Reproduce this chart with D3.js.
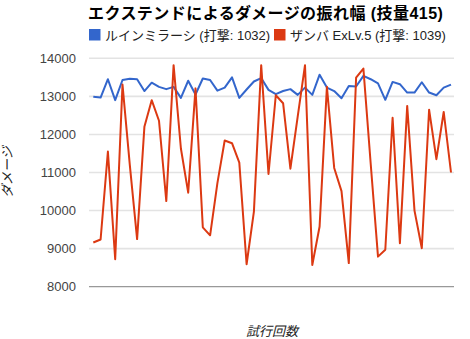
<!DOCTYPE html>
<html><head><meta charset="utf-8">
<script src="https://cdn.jsdelivr.net/npm/d3@7"></script>
<style>body{margin:0;background:#fff}svg{display:block}</style>
</head><body>
<script>
const title = "エクステンドによるダメージの振れ幅 (技量415)";
const seriesNames = ["ルインミラーシ (打撃: 1032)", "ザンバ ExLv.5 (打撃: 1039)"];
const colors = ["#3366cc", "#dc3912"];
const yTicks = [8000, 9000, 10000, 11000, 12000, 13000, 14000];
const xTitle = "試行回数";
const yTitle = "ダメージ";
const ruin = [12990,12970,13450,12900,13430,13460,13450,13140,13360,13250,
  13190,13250,12960,13410,13050,13470,13430,13150,13230,13500,
  12960,13180,13390,13480,13170,13060,13140,13190,13040,13230,
  13040,13570,13230,13140,12950,13270,13260,13540,13450,13340,
  12910,13380,13320,13100,13100,13370,13100,13030,13230,13310];
const zamba = [9160,9240,11550,8720,13310,11200,9250,12200,12900,12360,
  10250,13820,11630,10470,13210,9560,9350,10720,11840,11770,
  11260,8590,9970,13820,10960,13030,12820,11100,12470,13820,
  8570,9580,13250,11120,10510,8620,13490,13730,11230,8790,
  8970,12440,9140,12750,10000,9010,12650,11350,12590,11000];
const trials = d3.range(1, ruin.length + 1);

const W = 470, H = 339;
const svg = d3.select("body").append("svg").attr("width", W).attr("height", H);
const font = "Arial, 'Liberation Sans', 'Noto Sans CJK JP', sans-serif";

const x = d3.scalePoint().domain(trials).range([93.3, 451]);
const y = d3.scaleLinear().domain([8000, 14000]).range([286.7, 58.3]);

// gridlines
svg.append("g").selectAll("line").data(yTicks.filter(d => d !== 8000)).join("line")
  .attr("x1", 89).attr("x2", 454)
  .attr("y1", d => y(d)).attr("y2", d => y(d))
  .attr("stroke", "#e3e3e3").attr("stroke-width", 1.6);

// y axis labels
const yAxis = d3.axisLeft(y).tickValues(yTicks).tickSize(0).tickPadding(0).tickFormat(d3.format("d"));
const ya = svg.append("g").attr("transform", "translate(76,0)").call(yAxis);
ya.select(".domain").remove();
ya.selectAll("text").attr("font-family", font).attr("font-size", 13).attr("fill", "#444");

// lines
const line = d3.line().x((d, i) => x(trials[i])).y(d => y(d));
[ruin, zamba].forEach((s, k) => {
  svg.append("path").datum(s).attr("d", line)
    .attr("fill", "none").attr("stroke", colors[k]).attr("stroke-width", 2)
    .attr("stroke-linejoin", "round");
});

// baseline
svg.append("line").attr("x1", 89).attr("x2", 454)
  .attr("y1", y(8000)).attr("y2", y(8000))
  .attr("stroke", "#999").attr("stroke-width", 1.2);

// title
svg.append("text").attr("x", 88).attr("y", 19).text(title)
  .attr("font-family", font).attr("font-size", 16).attr("font-weight", "bold")
  .attr("letter-spacing", 0.45).attr("fill", "#000");

// legend
const legX = [89, 274];
seriesNames.forEach((n, k) => {
  svg.append("rect").attr("x", legX[k]).attr("y", 29).attr("width", 11.5).attr("height", 11.5).attr("fill", colors[k]);
  svg.append("text").attr("x", legX[k] + 16).attr("y", 40).text(n)
    .attr("font-family", font).attr("font-size", 13).attr("fill", "#222");
});

// axis titles
svg.append("text").attr("x", 272).attr("y", 336).attr("text-anchor", "middle").text(xTitle)
  .attr("font-family", font).attr("font-size", 13).attr("font-style", "italic").attr("fill", "#222");
svg.append("text").attr("transform", "translate(12,172) rotate(-90)").attr("text-anchor", "middle").text(yTitle)
  .attr("font-family", font).attr("font-size", 13).attr("font-style", "italic").attr("fill", "#222");
</script>
</body></html>
